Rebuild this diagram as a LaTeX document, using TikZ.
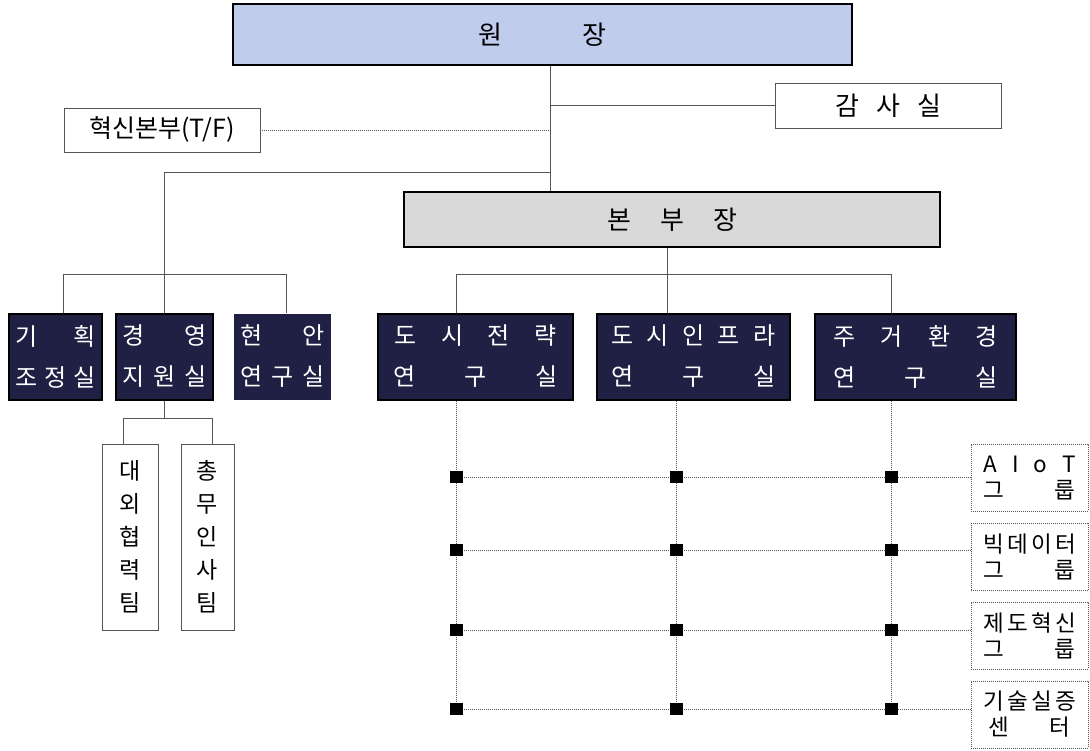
\documentclass[tikz,border=0pt]{standalone}
\usepackage{fontspec}
\setmainfont{Noto Sans CJK KR}
\usepackage{tikz}

\definecolor{chiefblue}{RGB}{192,204,236}
\definecolor{deskgray}{RGB}{217,217,217}
\definecolor{labnavy}{RGB}{32,32,68}
\definecolor{wiregray}{RGB}{85,85,85}

% spread a line of characters over a fixed width
\newcommand{\sprd}[2]{\makebox[#1pt][s]{#2}}

\tikzset{
  wire/.style={draw=wiregray, line width=0.9pt},
  dotline/.style={draw=wiregray, line width=0.8pt, dash pattern=on 0.9pt off 1.1pt},
  plainbox/.style={draw=wiregray, line width=0.9pt, fill=white, inner sep=0pt},
  labbox/.style={fill=labnavy, text=white, inner sep=0pt, minimum height=86pt,
    align=center, font=\fontsize{24}{41}\selectfont},
  groupbox/.style={dotline, fill=white, inner sep=0pt, minimum width=117pt,
    minimum height=67pt, align=center, font=\fontsize{22.5}{26}\selectfont},
  dot/.style={fill=black, inner sep=0pt, minimum width=13pt, minimum height=12pt}
}

\begin{document}
\begin{tikzpicture}[x=1pt,y=-1pt]
  \useasboundingbox (0,0) rectangle (1090,750);

  % top of the chart
  \node[draw=black, line width=2.5pt, fill=chiefblue, minimum width=619pt, minimum height=61pt,
        font=\fontsize{26}{28}\selectfont] (chief) at (542.5,34.5) {\sprd{128}{원 장}};
  \node[plainbox, minimum width=226pt, minimum height=45pt, font=\fontsize{26}{28}\selectfont]
        (audit) at (888,105.5) {\sprd{106}{감 사 실}};
  \node[plainbox, minimum width=196pt, minimum height=44pt, font=\fontsize{25}{28}\selectfont]
        (innov) at (162,130) {혁신본부(T/F)};
  \node[draw=black, line width=2.5pt, fill=deskgray, minimum width=536pt, minimum height=55pt,
        font=\fontsize{26}{28}\selectfont] (desk) at (672,219.5) {\sprd{130}{본 부 장}};

  % offices
  \begin{scope}[every node/.style={labbox}]
    \node[draw=black, line width=2pt, minimum width=93pt] (plan) at (55.5,356.5)
      {\sprd{80}{기 획}\\\sprd{80}{조 정 실}};
    \node[draw=black, line width=2pt, minimum width=97pt] (mgmt) at (164.5,356.5)
      {\sprd{84}{경 영}\\\sprd{84}{지 원 실}};
    \node[minimum width=97pt] (issue) at (282.5,356.5)
      {\sprd{84}{현 안}\\\sprd{84}{연 구 실}};
    \node[draw=black, line width=2pt, minimum width=195pt] (strat) at (475.5,356.5)
      {\sprd{162}{도 시 전 략}\\\sprd{164}{연 구 실}};
    \node[draw=black, line width=2pt, minimum width=193pt] (infra) at (693.5,356.5)
      {\sprd{164}{도 시 인 프 라}\\\sprd{164}{연 구 실}};
    \node[draw=black, line width=2pt, minimum width=201pt] (house) at (915.5,356.5)
      {\sprd{164}{주 거 환 경}\\\sprd{164}{연 구 실}};
  \end{scope}

  % teams
  \begin{scope}[every node/.style={plainbox, minimum height=186pt, align=center,
      font=\fontsize{23}{33}\selectfont}]
    \node[minimum width=56pt] (intl) at (130,537) {대\\외\\협\\력\\팀};
    \node[minimum width=53pt] (admin) at (207.5,537) {총\\무\\인\\사\\팀};
  \end{scope}

  % groups
  \node[groupbox] (aiot) at (1029.5,477.5) {\sprd{92}{A I o T}\\\sprd{92}{그 룹}};
  \node[groupbox] (bigdata) at (1029.5,557) {\sprd{92}{빅 데 이 터}\\\sprd{92}{그 룹}};
  \node[groupbox] (policy) at (1029.5,635.5) {\sprd{92}{제 도 혁 신}\\\sprd{92}{그 룹}};
  \node[groupbox] (testbed) at (1029.5,714.5) {\sprd{92}{기 술 실 증}\\\sprd{82}{센 터}};

  % grid points
  \foreach \r/\y in {1/477,2/550,3/630,4/709}
    \foreach \c/\x in {1/456,2/676,3/891}
      \coordinate (p-\r-\c) at (\x,\y);
  \coordinate (spine) at (550,172);
  \coordinate (hub) at (667,275);

  % solid lines
  \draw[wire] (chief.south -| spine) -- (desk.north -| spine);
  \draw[wire] (audit.west -| spine) -- (audit.west);
  \draw[wire] (spine) -| (mgmt.north);
  \draw[wire] (plan.80) -- ++(0,-38) -| (issue.85);
  \draw[wire] (mgmt.south) -- ++(0,18) -| (intl.94);
  \draw[wire] (mgmt.south) ++(0,18) -| (admin.87);
  \draw[wire] (desk.south -| hub) -- (infra.north -| hub);
  \draw[wire] (strat.north -| p-1-1) -- ++(0,-38) -| (house.north -| p-1-3);

  % dotted lines
  \draw[dotline] (innov.east) -- (innov.east -| spine);
  \foreach \c/\b in {1/strat,2/infra,3/house}
    \draw[dotline] (\b.south -| p-1-\c) -- (p-4-\c);
  \foreach \r/\g in {1/aiot,2/bigdata,3/policy,4/testbed}
    \draw[dotline] (p-\r-1) -- (p-\r-3) -- (\g.west |- p-\r-3);

  \foreach \r in {1,...,4}
    \foreach \c in {1,2,3}
      \node[dot] (sq-\r-\c) at (p-\r-\c) {};

\end{tikzpicture}
\end{document}
